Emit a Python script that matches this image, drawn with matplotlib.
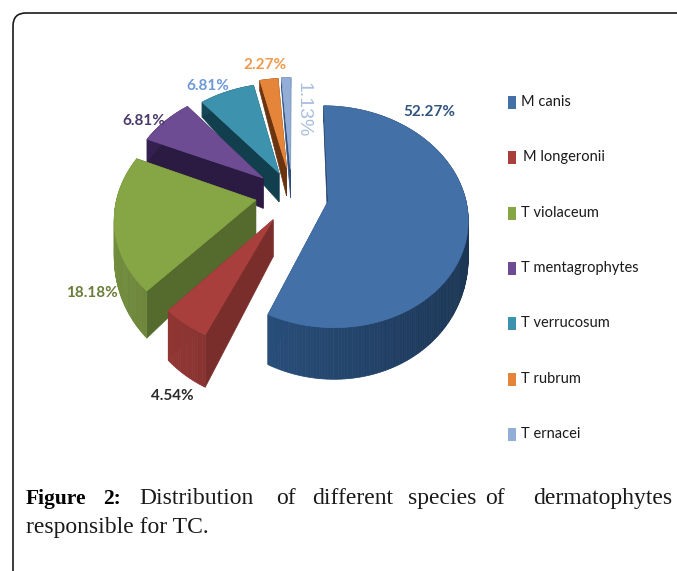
import numpy as np
import matplotlib
matplotlib.use('Agg')
import matplotlib.pyplot as plt
from matplotlib.patches import Polygon, PathPatch, Rectangle
from matplotlib.path import Path
from matplotlib.colors import to_rgb

# data
species = ['M canis', 'M longeronii', 'T violaceum', 'T mentagrophytes',
           'T verrucosum', 'T rubrum', 'T ernacei']
percent = [52.27, 4.54, 18.18, 6.81, 6.81, 2.27, 1.13]
percent_labels = ['52.27%', '4.54%', '18.18%', '6.81%', '6.81%', '2.27%', '1.13%']

# colours: top face, outer wall, cut wall, label
top_col = ['#4470A8', '#A83F3C', '#86A544', '#6E4C94', '#3D93AE', '#E5853A', '#93AED6']
arc_col = ['#24466E', '#7C2F2D', '#5C7232', '#2B1B42', '#123F4E', '#6B3410', '#2E4F7C']
cut_col = ['#1F3F68', '#7A2E2C', '#556B2E', '#2B1B42', '#123F4E', '#6B3410', '#2E4F7C']
lab_col = ['#2F5480', '#2B2B2B', '#6B7D3A', '#4B3B6B', '#6C9AD9', '#EE9A4D', '#A9BEDD']

# layout of the tilted pie, in pixels
cx, cy = 292, 195
rx, ry = 147, 115
persp = 0.15
nudge = [(0, 0), (2, 0), (0, -1), (0, 0), (3, 3), (0, 0), (0, 2)]
rscale = [0.93, 0.9, 0.94, 0.94, 0.95, 0.95, 0.98]

lab_xy = [(429, 112), (172, 396), (92, 293), (144, 121), (208, 86), (265, 65), (303, 110)]
leg_y = [102, 157, 213, 268, 323, 379, 434]


def project(x, y):
    w = 1 + persp*y
    return cx + rx*x/w, cy - ry*y/w


def depth(y):
    return 33 - 19*y


def shade(col, f):
    return tuple(min(1, c*f) for c in to_rgb(col))


fig = plt.figure(figsize=(6.77, 5.71), dpi=100)

# the pie itself gives the angles and exploded centres
tmp = fig.add_axes([0, 0, 1, 1])
wedges, _ = tmp.pie(percent, explode=[0.25]*len(percent), startangle=90, counterclock=False)
pie_parts = [(w.center, w.theta1, w.theta2) for w in wedges]
tmp.remove()

ax = fig.add_axes([0, 0, 1, 1])
ax.set_xlim(0, 677)
ax.set_ylim(571, 0)
ax.axis('off')

# frame round the figure
frame = Path([(13, 575), (13, 26), (13, 13), (26, 13), (682, 13)],
             [Path.MOVETO, Path.LINETO, Path.CURVE3, Path.CURVE3, Path.LINETO])
ax.add_patch(PathPatch(frame, fill=False, edgecolor='#1a1a1a', linewidth=1.2))

# back slices first, blue last
for i in [6, 5, 4, 3, 2, 1, 0]:
    (c0, c1), t1, t2 = pie_parts[i]
    th = np.radians(np.linspace(t1, t2, max(int(t2 - t1), 4)))
    r = rscale[i]
    xs = c0 + r*np.cos(th)
    ys = c1 + r*np.sin(th)
    dx, dy = nudge[i]

    top = [project(x, y) for x, y in zip(xs, ys)]
    top = [(a + dx, b + dy) for a, b in top]
    ax0, ay0 = project(c0, c1)
    apex = (ax0 + dx, ay0 + dy)
    d_apex = depth(c1)
    d_arc = [depth(y) for y in ys]

    # cut walls
    for p, d in [(top[0], d_arc[0]), (top[-1], d_arc[-1])]:
        quad = [apex, p, (p[0], p[1] + d), (apex[0], apex[1] + d_apex)]
        ax.add_patch(Polygon(quad, closed=True, facecolor=cut_col[i], edgecolor=cut_col[i], linewidth=0.5))

    # outer wall, darker toward the right
    for k in range(len(top) - 1):
        p, q = top[k], top[k + 1]
        quad = [p, q, (q[0], q[1] + d_arc[k + 1]), (p[0], p[1] + d_arc[k])]
        col = shade(arc_col[i], 1.0 - 0.25*np.cos(th[k]))
        ax.add_patch(Polygon(quad, closed=True, facecolor=col, edgecolor=col, linewidth=0.5))

    ax.add_patch(Polygon([apex] + top, closed=True, facecolor=top_col[i], edgecolor=top_col[i], linewidth=0.5))

# value labels
narrow = 'Lato'
for i, lab in enumerate(percent_labels):
    if i == 6:
        ax.text(lab_xy[i][0], lab_xy[i][1], lab, color=lab_col[i], fontsize=14, rotation=-90,
                ha='center', va='center', family='Liberation Sans')
    else:
        ax.text(lab_xy[i][0], lab_xy[i][1], lab, color=lab_col[i], fontsize=11,
                ha='center', va='center', family=narrow, fontweight='bold')

# legend
for i, name in enumerate(species):
    ax.add_patch(Rectangle((508, leg_y[i] - 6.5), 8, 13, facecolor=top_col[i], edgecolor='none'))
    ax.text(523 if i == 1 else 521, leg_y[i], name, color='#1a1a1a', fontsize=10.5,
            ha='left', va='center', family=narrow)

# caption, justified by hand
cap_words = ['Distribution', 'of', 'different', 'species', 'of', 'dermatophytes']
cap_x = [139, 276, 312, 408, 485, 533]
ax.text(26, 504, 'Figure', fontsize=15.5, fontweight='bold', family='Liberation Serif', va='baseline')
ax.text(103, 504, '2:', fontsize=15.5, fontweight='bold', family='Liberation Serif', va='baseline')
for x, word in zip(cap_x, cap_words):
    ax.text(x, 504, word, fontsize=17, family='Liberation Serif', va='baseline', color='#1a1a1a')
ax.text(26, 533, 'responsible for TC.', fontsize=17, family='Liberation Serif', va='baseline', color='#1a1a1a')

fig.savefig('out.png', dpi=100)
